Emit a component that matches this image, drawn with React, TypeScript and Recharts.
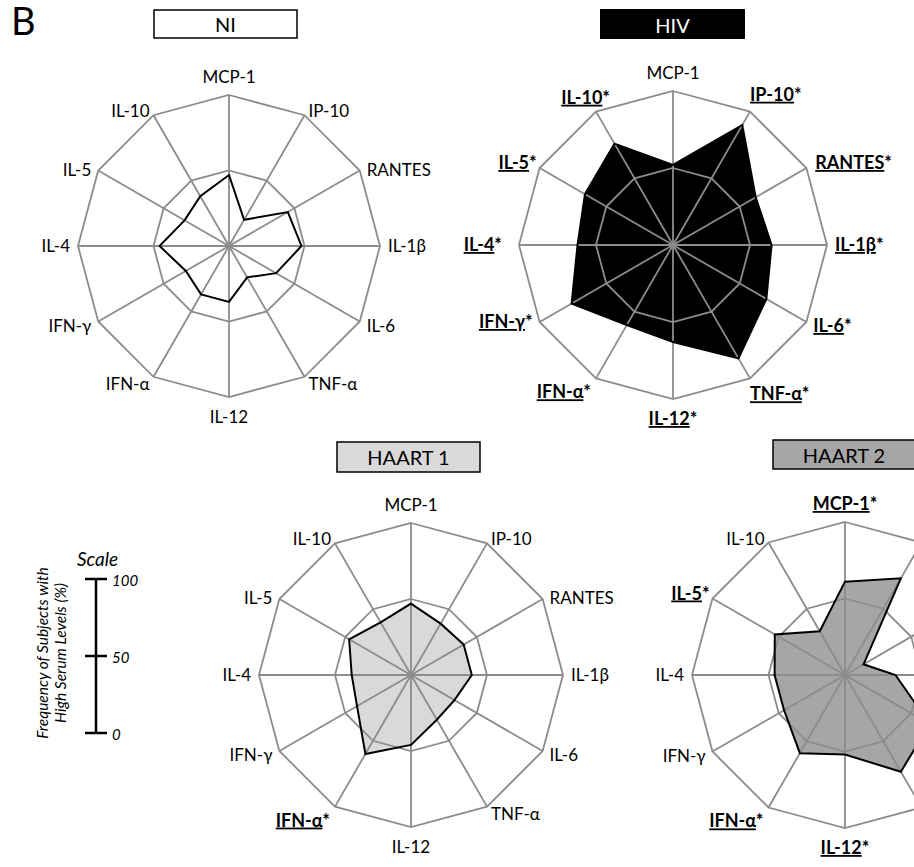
import React from 'react'
import { RadarChart, Radar, PolarGrid, PolarAngleAxis, PolarRadiusAxis } from 'recharts'

const cytokines = ['MCP-1', 'IP-10', 'RANTES', 'IL-1β', 'IL-6', 'TNF-α', 'IL-12', 'IFN-α', 'IFN-γ', 'IL-4', 'IL-5', 'IL-10']

// % of subjects with high serum levels
const niValues = [47, 20, 45, 48, 36, 24, 37, 37, 33, 46, 34, 38]
const hivValues = [52, 90, 62, 64, 70, 85, 63, 60, 76, 62, 66, 76]
const haart1Values = [47, 39, 40, 40, 33, 34, 46, 60, 41, 39, 47, 40]
const haart2Values = [61, 73, 14, 33, 64, 73, 52, 59, 46, 46, 53, 33]

const niStarred: string[] = []
const hivStarred = ['IP-10', 'RANTES', 'IL-1β', 'IL-6', 'TNF-α', 'IL-12', 'IFN-α', 'IFN-γ', 'IL-4', 'IL-5', 'IL-10']
const haart1Starred = ['IFN-α']
const haart2Starred = ['MCP-1', 'IL-5', 'IFN-α', 'IL-12']

const scaleTicks = [100, 50, 0]

const data = cytokines.map((c, i) => ({
  cytokine: c,
  ni: niValues[i],
  hiv: hivValues[i],
  haart1: haart1Values[i],
  haart2: haart2Values[i],
}))

const FONT = 'Lato, "Open Sans", sans-serif'
const GRID = '#8c8c8c'

// the starred (bold) labels sit a bit further out in the original
// keys are the axis angles recharts hands the tick (90 at top, going clockwise to -240)
const starNudge: Record<number, [number, number]> = {
  60: [-4, -13],
  30: [2, -4],
  [-60]: [-4, 9],
  [-120]: [-1, 7],
  [-150]: [0, -4],
  [-180]: [-9, 0],
  [-210]: [4, -4],
  [-240]: [18, -10],
}

function AxisTick(props: any) {
  const { x, y, payload, textAnchor, starred } = props
  const name = payload.value as string
  const star = starred.includes(name)
  const coord = Math.round(payload.coordinate)
  const s = Math.sin((coord * Math.PI) / 180)
  let dy = 6
  if (s > 0.99) dy = -4
  else if (s < -0.99) dy = 18
  else if (s > 0) dy = 9
  const [nx, ny] = star && starNudge[coord] ? starNudge[coord] : [0, 0]
  return (
    <text
      x={x + nx}
      y={y + ny}
      dy={dy}
      textAnchor={textAnchor}
      fontFamily={FONT}
      fontSize={star ? 18 : 17}
      fontWeight={star ? 700 : 400}
      fill="#000"
    >
      {star ? (
        <>
          <tspan style={{ textDecoration: 'underline' }}>{name}</tspan>
          <tspan>*</tspan>
        </>
      ) : (
        name
      )}
    </text>
  )
}

interface PanelProps {
  dataKey: string
  starred: string[]
  fill: string | null
  left: number
  top: number
  radius: number
}

function Panel({ dataKey, starred, fill, left, top, radius }: PanelProps) {
  return (
    <div style={{ position: 'absolute', left, top }}>
      <RadarChart width={480} height={420} data={data} outerRadius={radius} margin={{ top: 0, right: 0, bottom: 0, left: 0 }}>
        <PolarRadiusAxis domain={[0, 100]} tickCount={3} tick={false} axisLine={false} />
        <PolarAngleAxis
          dataKey="cytokine"
          tickLine={false}
          axisLine={false}
          tick={(p: any) => <AxisTick {...p} starred={starred} />}
        />
        {fill && (
          <Radar
            dataKey={dataKey}
            fill={fill}
            fillOpacity={1}
            stroke="none"
            zIndex={-150}
            isAnimationActive={false}
          />
        )}
        <PolarGrid gridType="polygon" stroke={GRID} strokeWidth={1.8} />
        <Radar
          dataKey={dataKey}
          fill="none"
          fillOpacity={0}
          stroke="#000"
          strokeWidth={2}
          isAnimationActive={false}
        />
      </RadarChart>
    </div>
  )
}

export default function App() {
  return (
    <div
      style={{
        position: 'fixed',
        left: 0,
        top: 0,
        width: 914,
        height: 867,
        overflow: 'hidden',
        background: '#fff',
        fontFamily: FONT,
      }}
    >
      <Panel dataKey="ni" starred={niStarred} fill={null} left={-11} top={36} radius={151} />
      <Panel dataKey="hiv" starred={hivStarred} fill="#000" left={433} top={35} radius={154} />
      <Panel dataKey="haart1" starred={haart1Starred} fill="#d9d9d9" left={171} top={465} radius={152} />
      <Panel dataKey="haart2" starred={haart2Starred} fill="#a6a6a6" left={605} top={465} radius={153} />

      <svg width={914} height={867} style={{ position: 'absolute', left: 0, top: 0, pointerEvents: 'none' }}>
        <text x={11} y={35} fontFamily={FONT} fontSize={38} fill="#000">B</text>

        {/* panel titles */}
        <rect x={154} y={10} width={143} height={28} fill="#fff" stroke="#000" strokeWidth={1.5} />
        <text x={225.5} y={32} textAnchor="middle" fontFamily={FONT} fontSize={20}>NI</text>
        <rect x={600} y={9} width={145} height={30} fill="#000" />
        <text x={672.5} y={33} textAnchor="middle" fontFamily={FONT} fontSize={20} fill="#fff">HIV</text>
        <rect x={337} y={442} width={143} height={30} fill="#d9d9d9" stroke="#000" strokeWidth={1.5} />
        <text x={408.5} y={465} textAnchor="middle" fontFamily={FONT} fontSize={20}>HAART 1</text>
        <rect x={773} y={440} width={160} height={29} fill="#a6a6a6" stroke="#000" strokeWidth={1.5} />
        <text x={844} y={463} textAnchor="middle" fontFamily={FONT} fontSize={20}>HAART 2</text>

        {/* scale bar */}
        <text x={77} y={566} fontFamily={FONT} fontSize={19} fontStyle="italic">Scale</text>
        <line x1={96} y1={579} x2={96} y2={733} stroke="#000" strokeWidth={2.5} />
        {scaleTicks.map((t) => {
          const ty = 733 - (t / 100) * 154
          return (
            <g key={t}>
              <line x1={85} y1={ty} x2={107} y2={ty} stroke="#000" strokeWidth={2.5} />
              <text x={112} y={ty + 2} dy="0.35em" fontFamily={FONT} fontSize={15} fontStyle="italic">{t}</text>
            </g>
          )
        })}
        <text transform="translate(47.5,653) rotate(-90)" textAnchor="middle" fontFamily={FONT} fontSize={15.5} fontStyle="italic">
          Frequency of Subjects with
        </text>
        <text transform="translate(65.5,653) rotate(-90)" textAnchor="middle" fontFamily={FONT} fontSize={15.5} fontStyle="italic">
          High Serum Levels (%)
        </text>
      </svg>
    </div>
  )
}
